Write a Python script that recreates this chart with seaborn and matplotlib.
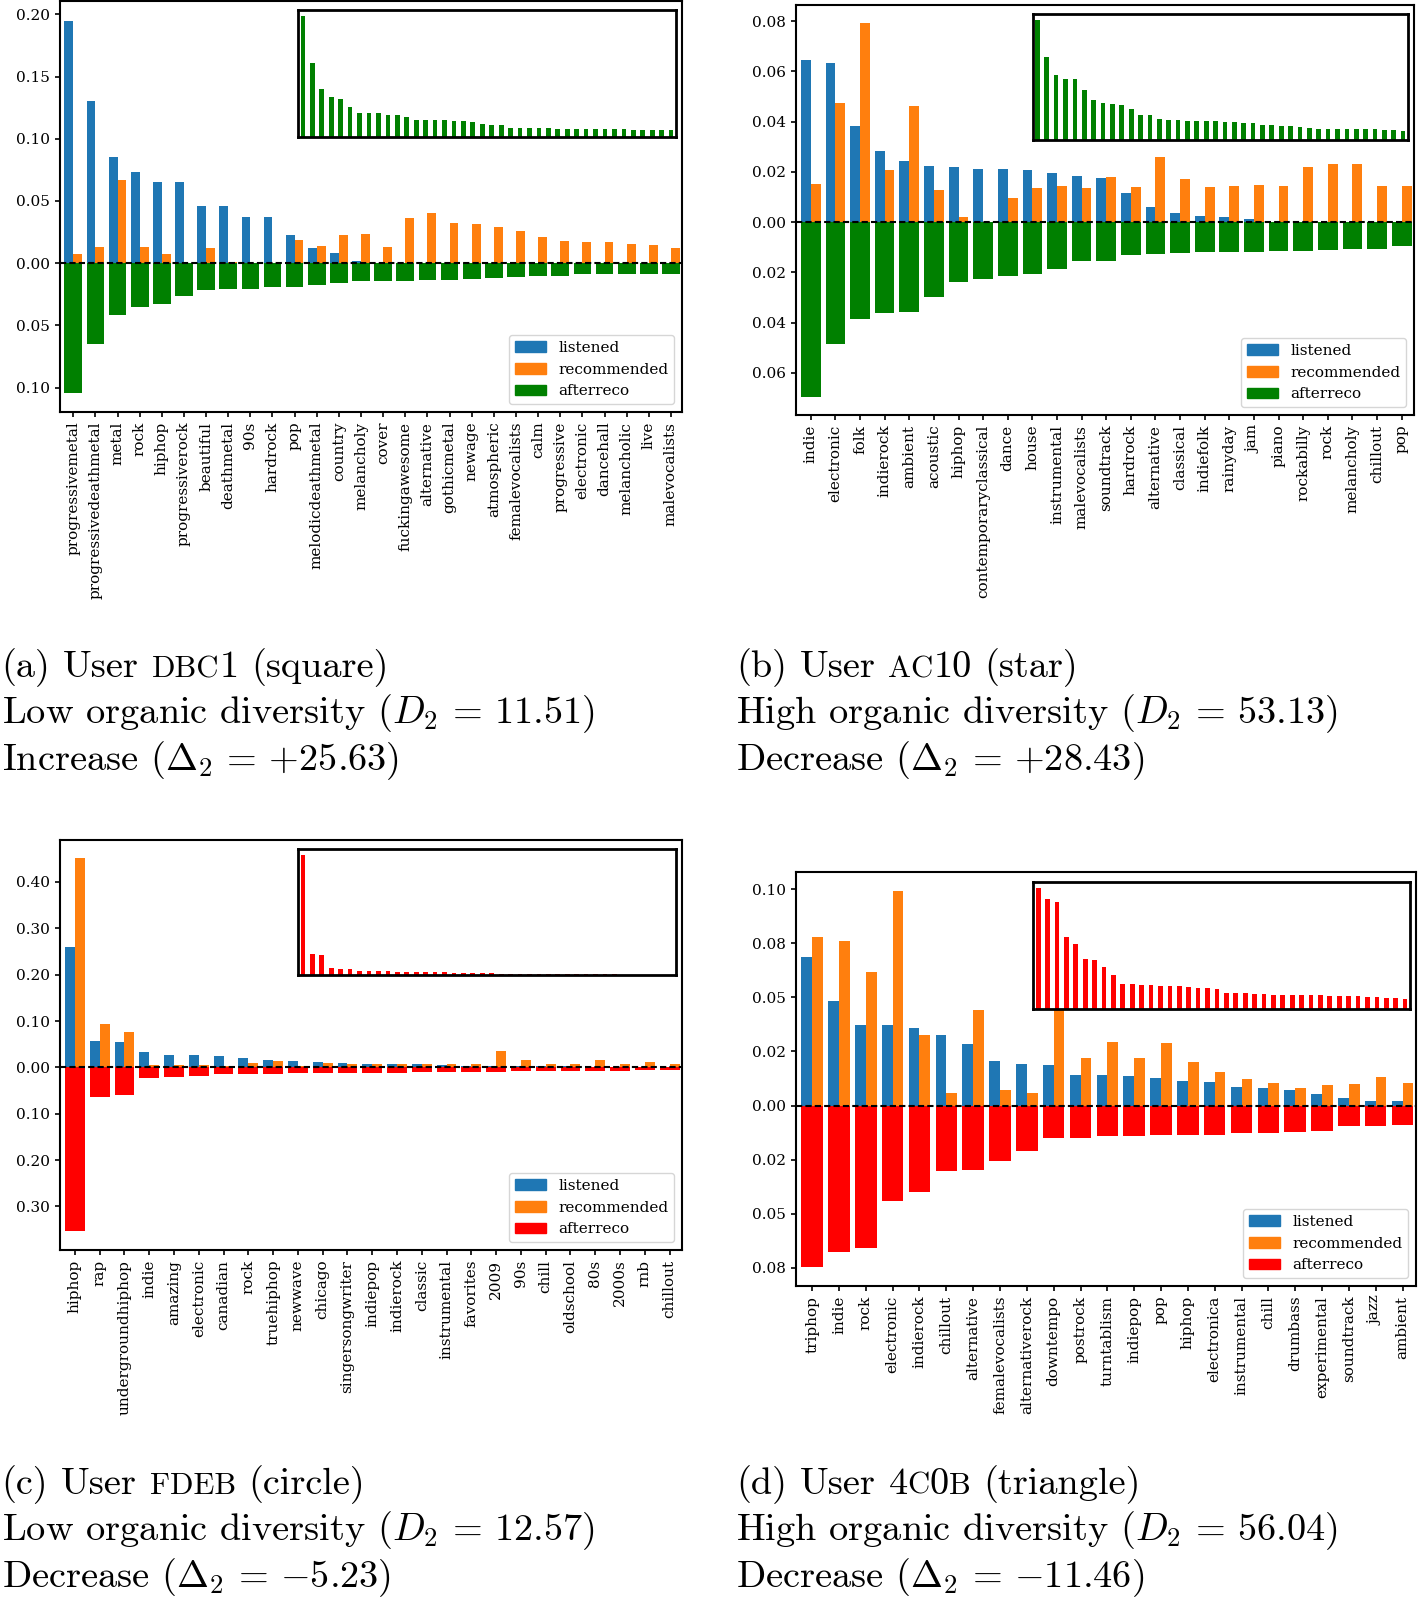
import matplotlib.pyplot as plt
import matplotlib.patches as mpatches
import pandas as pd
import seaborn as sns

plt.rcParams['font.family'] = 'DejaVu Serif'
plt.rcParams['mathtext.fontset'] = 'cm'
plt.rcParams['font.size'] = 11
plt.rcParams['axes.linewidth'] = 1.5
plt.rcParams['xtick.major.width'] = 1.2
plt.rcParams['ytick.major.width'] = 1.2

# ---- (a) user dbc1 ----
tags_a = ['progressivemetal', 'progressivedeathmetal', 'metal', 'rock', 'hiphop',
          'progressiverock', 'beautiful', 'deathmetal', '90s', 'hardrock', 'pop',
          'melodicdeathmetal', 'country', 'melancholy', 'cover', 'fuckingawesome',
          'alternative', 'gothicmetal', 'newage', 'atmospheric', 'femalevocalists',
          'calm', 'progressive', 'electronic', 'dancehall', 'melancholic', 'live',
          'malevocalists']
listened_a = [0.195, 0.130, 0.085, 0.073, 0.065, 0.065, 0.046, 0.046, 0.037, 0.037,
              0.023, 0.0126, 0.008, 0.0016, 0, 0, 0, 0, 0, 0, 0, 0, 0, 0, 0, 0, 0, 0]
recommended_a = [0.0072, 0.0129, 0.0668, 0.0129, 0.007, 0, 0.012, 0.001, 0, 0,
                 0.019, 0.0142, 0.0223, 0.0231, 0.0131, 0.0362, 0.040, 0.0322, 0.0311,
                 0.0292, 0.026, 0.0214, 0.018, 0.0172, 0.0169, 0.0155, 0.0147, 0.0126]
after_a = [0.1046, 0.0646, 0.0418, 0.0349, 0.0332, 0.026, 0.0214, 0.0209, 0.0204,
           0.0193, 0.0188, 0.0177, 0.0158, 0.0145, 0.0145, 0.0145, 0.0137, 0.0134,
           0.0129, 0.0118, 0.011, 0.0107, 0.0107, 0.0086, 0.0086, 0.0086, 0.0086, 0.0083]
inset_a = [0.1046, 0.0642, 0.0413, 0.0343, 0.0328, 0.0258, 0.0205, 0.0205, 0.0205,
           0.0188, 0.0185, 0.017, 0.0149, 0.0141, 0.0141, 0.0141, 0.0132, 0.0132,
           0.0123, 0.0114, 0.0103, 0.0097, 0.0079, 0.0079, 0.0079, 0.0079, 0.0079,
           0.007, 0.007, 0.0064, 0.0064, 0.0064, 0.0064, 0.0064, 0.0064, 0.0056,
           0.0056, 0.0056, 0.0056, 0.0056]
yticks_a = [-0.10, -0.05, 0.00, 0.05, 0.10, 0.15, 0.20]
ylabels_a = ['0.10', '0.05', '0.00', '0.05', '0.10', '0.15', '0.20']
ylim_a = (-0.1196, 0.2107)

# ---- (b) user ac10 ----
tags_b = ['indie', 'electronic', 'folk', 'indierock', 'ambient', 'acoustic', 'hiphop',
          'contemporaryclassical', 'dance', 'house', 'instrumental', 'malevocalists',
          'soundtrack', 'hardrock', 'alternative', 'classical', 'indiefolk', 'rainyday',
          'jam', 'piano', 'rockabilly', 'rock', 'melancholy', 'chillout', 'pop']
listened_b = [0.0645, 0.0633, 0.0381, 0.0282, 0.0245, 0.0225, 0.0221, 0.021, 0.021,
              0.0206, 0.0194, 0.0182, 0.0174, 0.0114, 0.0058, 0.0037, 0.0025, 0.0019,
              0.0011, 0, 0, 0, 0, 0, 0]
recommended_b = [0.015, 0.0473, 0.0791, 0.0209, 0.0461, 0.0126, 0.0019, 0, 0.0094,
                 0.0137, 0.0142, 0.0137, 0.0178, 0.014, 0.0258, 0.0173, 0.014, 0.0142,
                 0.0146, 0.0142, 0.0221, 0.023, 0.0233, 0.0145, 0.0142]
after_b = [0.0698, 0.0486, 0.0385, 0.0361, 0.0359, 0.0298, 0.0238, 0.0226, 0.0215,
           0.0207, 0.0186, 0.0155, 0.0155, 0.013, 0.0126, 0.0124, 0.012, 0.012, 0.0118,
           0.0116, 0.0114, 0.011, 0.0108, 0.0106, 0.0096]
inset_b = [0.0698, 0.0486, 0.0381, 0.0356, 0.0356, 0.0293, 0.0234, 0.022, 0.021, 0.0203,
           0.0181, 0.0149, 0.0149, 0.0122, 0.012, 0.0116, 0.0114, 0.0114, 0.011, 0.011,
           0.0104, 0.0104, 0.0098, 0.0098, 0.009, 0.0087, 0.0085, 0.0081, 0.0079, 0.0073,
           0.0067, 0.0067, 0.0063, 0.0063, 0.0063, 0.0063, 0.0063, 0.0061, 0.0061, 0.0057]
yticks_b = [-0.06, -0.04, -0.02, 0.00, 0.02, 0.04, 0.06, 0.08]
ylabels_b = ['0.06', '0.04', '0.02', '0.00', '0.02', '0.04', '0.06', '0.08']
ylim_b = (-0.0768, 0.0864)

# ---- (c) user fdeb ----
tags_c = ['hiphop', 'rap', 'undergroundhiphop', 'indie', 'amazing', 'electronic',
          'canadian', 'rock', 'truehiphop', 'newwave', 'chicago', 'singersongwriter',
          'indiepop', 'indierock', 'classic', 'instrumental', 'favorites', '2009', '90s',
          'chill', 'oldschool', '80s', '2000s', 'rnb', 'chillout']
listened_c = [0.26, 0.057, 0.054, 0.033, 0.026, 0.026, 0.024, 0.020, 0.017, 0.014,
              0.0115, 0.0086, 0.008, 0.008, 0.0065, 0.005, 0.0036, 0.003, 0.0025, 0.002,
              0.002, 0.0015, 0.0015, 0.001, 0.001]
recommended_c = [0.451, 0.0935, 0.076, 0.005, 0.005, 0.005, 0.002, 0.009, 0.0137, 0.002,
                 0.0086, 0.0065, 0.0065, 0.008, 0.0065, 0.008, 0.0065, 0.035, 0.015,
                 0.0065, 0.0065, 0.016, 0.0065, 0.011, 0.0065]
after_c = [0.353, 0.0647, 0.0604, 0.0223, 0.020, 0.0194, 0.0151, 0.0151, 0.0151, 0.013,
           0.013, 0.013, 0.013, 0.013, 0.0108, 0.0108, 0.0094, 0.0094, 0.0079, 0.0079,
           0.0079, 0.0079, 0.0072, 0.0065, 0.0065]
inset_c = [0.353, 0.064, 0.059, 0.022, 0.019, 0.019, 0.014, 0.012, 0.012, 0.012, 0.011,
           0.011, 0.010, 0.010, 0.009, 0.009, 0.008, 0.008, 0.007, 0.006, 0.006, 0.005,
           0.005, 0.005, 0.004, 0.004, 0.004, 0.004, 0.004, 0.004, 0.003, 0.003, 0.003,
           0.003, 0.002, 0.002, 0.002, 0.002, 0.002, 0.002]
yticks_c = [-0.3, -0.2, -0.1, 0.0, 0.1, 0.2, 0.3, 0.4]
ylabels_c = ['0.30', '0.20', '0.10', '0.00', '0.10', '0.20', '0.30', '0.40']
ylim_c = (-0.394, 0.4906)

# ---- (d) user 4c0b ----
tags_d = ['triphop', 'indie', 'rock', 'electronic', 'indierock', 'chillout', 'alternative',
          'femalevocalists', 'alternativerock', 'downtempo', 'postrock', 'turntablism',
          'indiepop', 'pop', 'hiphop', 'electronica', 'instrumental', 'chill', 'drumbass',
          'experimental', 'soundtrack', 'jazz', 'ambient']
listened_d = [0.0686, 0.0483, 0.0373, 0.0371, 0.0357, 0.0326, 0.0284, 0.0205, 0.0191,
              0.0186, 0.0143, 0.014, 0.0138, 0.0126, 0.0112, 0.011, 0.0087, 0.0079,
              0.007, 0.0054, 0.0033, 0.0023, 0.0019]
recommended_d = [0.0778, 0.0758, 0.0618, 0.0992, 0.0326, 0.0056, 0.0441, 0.007, 0.0059,
                 0.058, 0.0219, 0.0292, 0.0219, 0.0289, 0.02, 0.0154, 0.0121, 0.0102,
                 0.0082, 0.0093, 0.0098, 0.013, 0.0106]
after_d = [0.0744, 0.0677, 0.0658, 0.0443, 0.0399, 0.0304, 0.0297, 0.0255, 0.0208, 0.0151,
           0.0148, 0.0143, 0.0143, 0.0138, 0.0138, 0.0138, 0.0129, 0.0126, 0.0123, 0.0118,
           0.0096, 0.0096, 0.009]
inset_d = [0.0744, 0.0676, 0.0653, 0.0442, 0.0397, 0.0304, 0.0298, 0.0254, 0.0207, 0.0149,
           0.0149, 0.0143, 0.0143, 0.0138, 0.0138, 0.0138, 0.013, 0.0124, 0.0124, 0.0118,
           0.0093, 0.0093, 0.0093, 0.0089, 0.0089, 0.0085, 0.0085, 0.0085, 0.0085, 0.0081,
           0.0081, 0.0076, 0.0076, 0.0076, 0.0076, 0.0072, 0.0072, 0.0068, 0.0064, 0.006]
yticks_d = [-0.075, -0.05, -0.025, 0.0, 0.025, 0.05, 0.075, 0.10]
ylabels_d = ['0.08', '0.05', '0.02', '0.00', '0.02', '0.05', '0.08', '0.10']
ylim_d = (-0.0834, 0.1079)

BLUE, ORANGE = '#1f77b4', '#ff7f0e'


def draw_panel(ax, tags, listened, recommended, after, inset, after_color,
               yticks, ylabels, ylim):
    n = len(tags)
    df = pd.DataFrame({'tag': tags * 2,
                       'value': listened + recommended,
                       'kind': ['listened'] * n + ['recommended'] * n})
    sns.barplot(data=df, x='tag', y='value', hue='kind',
                hue_order=['listened', 'recommended'], palette=[BLUE, ORANGE],
                width=0.8, saturation=1, errorbar=None, linewidth=0,
                legend=False, ax=ax)
    sns.barplot(x=tags, y=[-v for v in after], color=after_color, width=0.8,
                saturation=1, errorbar=None, linewidth=0, ax=ax)
    ax.axhline(0, color='black', ls=(0, (3, 1.5)), lw=1.5, zorder=3)
    ax.set(xlabel='', ylabel='')
    ax.set_xlim(-0.6, n - 0.5)
    ax.set_ylim(*ylim)
    ax.set_yticks(yticks)
    ax.set_yticklabels(ylabels)
    ax.tick_params(axis='x', rotation=90)

    handles = [mpatches.Patch(color=BLUE), mpatches.Patch(color=ORANGE),
               mpatches.Patch(color=after_color)]
    ax.legend(handles, ['listened', 'recommended', 'afterreco'],
              loc='lower right', fontsize=11)

    # inset: full afterreco distribution
    axi = ax.inset_axes([0.383, 0.67, 0.607, 0.307])
    sns.barplot(x=list(range(len(inset))), y=inset, color=after_color, width=0.5,
                saturation=1, errorbar=None, linewidth=0, ax=axi)
    axi.set_xlim(-0.5, len(inset) - 0.5)
    axi.set_ylim(0, max(inset) * 1.05)
    axi.set_xticks([])
    axi.set_yticks([])
    axi.set(xlabel='', ylabel='')
    for sp in axi.spines.values():
        sp.set_linewidth(2)


fig = plt.figure(figsize=(14.18, 15.97), dpi=100)
W, H = 1418, 1597


def add_axes(l, t, r, b):
    return fig.add_axes([l / W, 1 - b / H, (r - l) / W, (b - t) / H])


ax_a = add_axes(60, 1, 682, 412)
ax_b = add_axes(796, 5, 1414, 415)
ax_c = add_axes(60, 840, 682, 1250)
ax_d = add_axes(796, 872, 1416, 1286)

draw_panel(ax_a, tags_a, listened_a, recommended_a, after_a, inset_a, 'green',
           yticks_a, ylabels_a, ylim_a)
draw_panel(ax_b, tags_b, listened_b, recommended_b, after_b, inset_b, 'green',
           yticks_b, ylabels_b, ylim_b)
draw_panel(ax_c, tags_c, listened_c, recommended_c, after_c, inset_c, 'red',
           yticks_c, ylabels_c, ylim_c)
draw_panel(ax_d, tags_d, listened_d, recommended_d, after_d, inset_d, 'red',
           yticks_d, ylabels_d, ylim_d)

# ---- captions (computer modern, small caps faked with smaller letters) ----
CAP = 27.6
SC = CAP * 0.8
renderer = fig.canvas.get_renderer()


def text_width(s, size):
    t = fig.text(0, 0, s, fontsize=size, family='cmr10')
    w = t.get_window_extent(renderer).width
    t.remove()
    return w


space_w = text_width('a a', CAP) - text_width('aa', CAP)


def caption_line(x, y, parts):
    # parts: list of (text, size); None means a word space
    xp = x * W
    for p in parts:
        if p is None:
            xp += space_w
            continue
        s, size = p
        t = fig.text(xp / W, y, s, fontsize=size, family='cmr10',
                     ha='left', va='baseline')
        xp += t.get_window_extent(renderer).width


def caption(x, y_px, first, second, third):
    caption_line(x, 1 - y_px[0] / H, first)
    fig.text(x, 1 - y_px[1] / H, second, fontsize=CAP, family='cmr10', va='baseline')
    fig.text(x, 1 - y_px[2] / H, third, fontsize=CAP, family='cmr10', va='baseline')


top_lines = (677, 723, 770)
bot_lines = (1494, 1540, 1587)
xl, xr = 0.0012, 736 / W

caption(xl, top_lines,
        [('(a)', CAP), None, ('User', CAP), None, ('DBC', SC), ('1', CAP), None, ('(square)', CAP)],
        r'Low organic diversity ($D_2\,=\,11.51$)',
        r'Increase ($\Delta_2\,=\,{+}25.63$)')
caption(xr, top_lines,
        [('(b)', CAP), None, ('User', CAP), None, ('AC', SC), ('10', CAP), None, ('(star)', CAP)],
        r'High organic diversity ($D_2\,=\,53.13$)',
        r'Decrease ($\Delta_2\,=\,{+}28.43$)')
caption(xl, bot_lines,
        [('(c)', CAP), None, ('User', CAP), None, ('FDEB', SC), None, ('(circle)', CAP)],
        r'Low organic diversity ($D_2\,=\,12.57$)',
        r'Decrease ($\Delta_2\,=\,{-}5.23$)')
caption(xr, bot_lines,
        [('(d)', CAP), None, ('User', CAP), None, ('4', CAP), ('C', SC), ('0', CAP),
         ('B', SC), None, ('(triangle)', CAP)],
        r'High organic diversity ($D_2\,=\,56.04$)',
        r'Decrease ($\Delta_2\,=\,{-}11.46$)')

fig.savefig('out.png', dpi=100)
